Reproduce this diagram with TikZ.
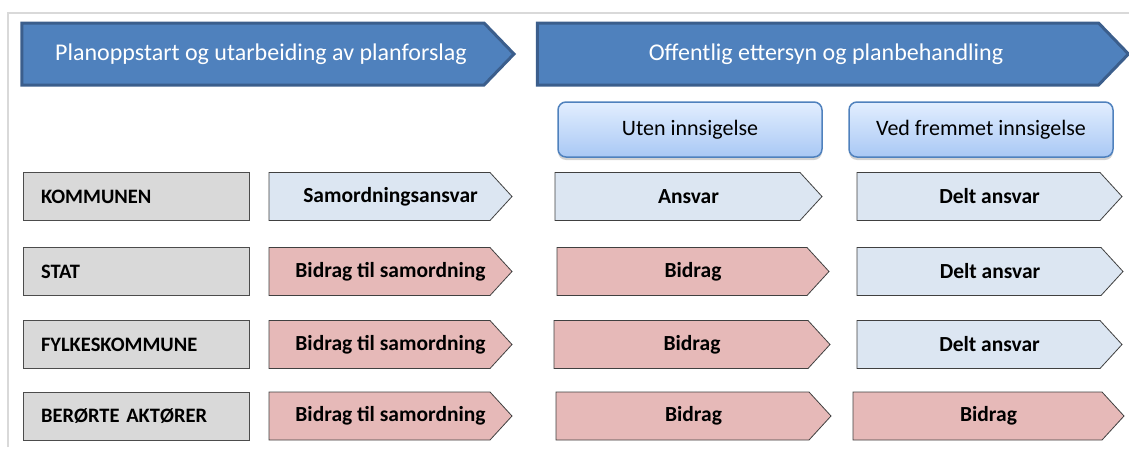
\documentclass[tikz,border=0pt]{standalone}
\usepackage{fontspec}
\setmainfont{Carlito}
\usepackage{xcolor}
\usetikzlibrary{shapes.symbols,shadows}

\definecolor{bannerblue}{HTML}{4F81BD}
\definecolor{bannerline}{HTML}{3B5E8C}
\definecolor{ansvarblue}{HTML}{DCE6F2}
\definecolor{bidragred}{HTML}{E6B9B8}
\definecolor{actorgray}{HTML}{D9D9D9}
\definecolor{frameline}{HTML}{D9D9D9}
\definecolor{casetop}{HTML}{E2EEFF}
\definecolor{casebottom}{HTML}{A9C8F4}

\tikzset{
    banner/.style={shape=signal, signal to=east, signal pointer angle=92,
        fill=bannerblue, draw=bannerline, line width=3pt, text=white,
        font=\fontsize{24}{28}\selectfont, inner sep=0pt,
        execute at begin node={\hspace*{16pt}}},
    casebox/.style={rounded corners=8pt, draw=bannerblue, line width=1.5pt,
        top color=casetop, bottom color=casebottom,
        drop shadow={shadow xshift=0pt, shadow yshift=-3pt, opacity=0.35},
        font=\fontsize{22}{26}\selectfont, minimum width=264, minimum height=55},
    actorbox/.style={draw=black!70, fill=actorgray, line width=0.8pt,
        font=\bfseries\fontsize{20.5}{24}\selectfont, minimum height=48,
        text width=190, align=left, inner xsep=18},
    rolebox/.style={shape=signal, signal to=east, signal pointer angle=95,
        draw=black!75, line width=0.8pt, inner sep=0pt, minimum height=48,
        font=\bfseries\fontsize{21.5}{24}\selectfont,
        execute at begin node={\hspace*{22pt}}},
    ansvar/.style={rolebox, fill=ansvarblue},
    bidrag/.style={rolebox, fill=bidragred}
}

\begin{document}
\begin{tikzpicture}[x=1pt, y=-1pt]

    \useasboundingbox (0, 0) rectangle (1129, 450);

    % Frame
    \draw[frameline, line width=1.5pt] (8, 447) -- (8, 13) -- (1129, 13);

    % Banners
    \node[banner, minimum width=492, minimum height=62] (fase1) at (253, 54)
        {Planoppstart og utarbeiding av planforslag};
    \node[banner, minimum width=591, minimum height=62] (fase2) at (818, 54)
        {Offentlig ettersyn og planbehandling};

    % Cases
    \node[casebox] (uten) at (690, 129.5) {Uten innsigelse};
    \node[casebox] (ved) at (981, 129.5) {Ved fremmet innsigelse};

    % Actors
    \node[actorbox, minimum width=226] (kommunen) at (136, 196.5) {KOMMUNEN};
    \node[actorbox, minimum width=226] (stat) at (136, 271.5) {STAT};
    \node[actorbox, minimum width=226] (fylke) at (136, 344.5) {FYLKESKOMMUNE};
    \node[actorbox, minimum width=226] (berorte) at (136, 416) {BERØRTE AKTØRER};

    % Planforslag
    \node[ansvar, minimum width=243] (k1) at (379.5, 196.5) {Samordningsansvar};
    \node[bidrag, minimum width=243] (s1) at (379.5, 271.5) {Bidrag til samordning};
    \node[bidrag, minimum width=243] (f1) at (379.5, 344.5) {Bidrag til samordning};
    \node[bidrag, minimum width=243] (b1) at (379.5, 416) {Bidrag til samordning};

    % Uten innsigelse
    \node[ansvar, minimum width=267] (k2) at (677.5, 196.5) {Ansvar};
    \node[bidrag, minimum width=272] (s2) at (682, 271.5) {Bidrag};
    \node[bidrag, minimum width=276] (f2) at (681, 344.5) {Bidrag};
    \node[bidrag, minimum width=275] (b2) at (682.5, 416) {Bidrag};

    % Ved fremmet innsigelse
    \node[ansvar, minimum width=265] (k3) at (978.5, 196.5) {Delt ansvar};
    \node[ansvar, minimum width=266] (s3) at (979, 271.5) {Delt ansvar};
    \node[ansvar, minimum width=265] (f3) at (978.5, 344.5) {Delt ansvar};
    \node[bidrag, minimum width=271] (b3) at (977.5, 416) {Bidrag};

\end{tikzpicture}
\end{document}
